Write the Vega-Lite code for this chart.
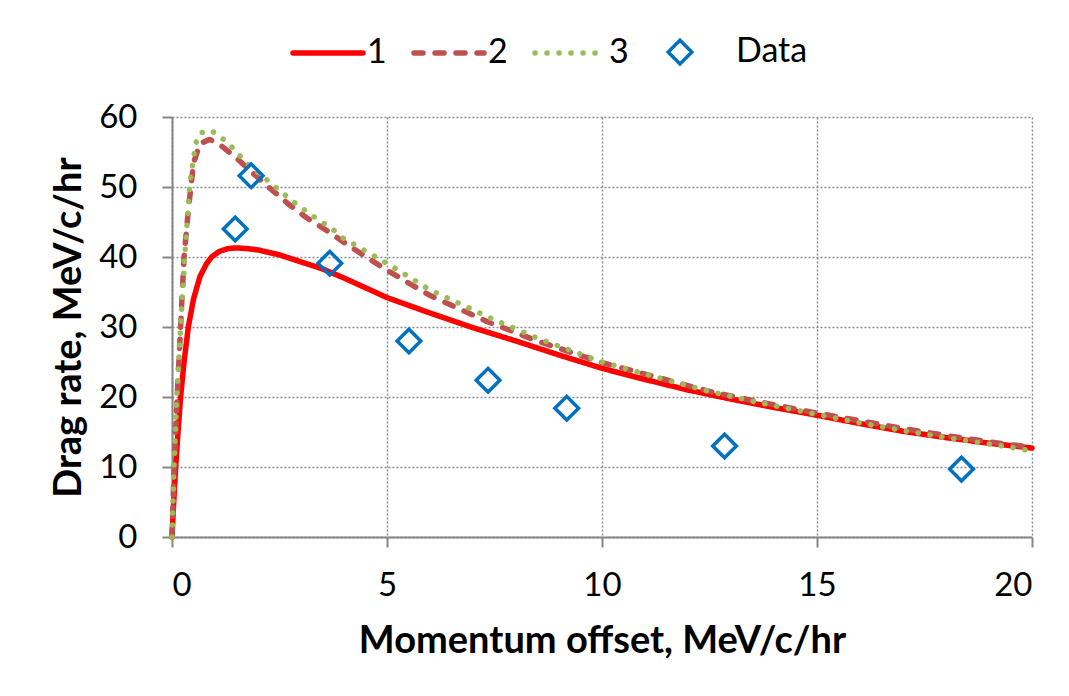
{
  "$schema": "https://vega.github.io/schema/vega-lite/v6.json",
  "autosize": {"type": "none"},
  "padding": {"left": 172, "top": 117, "right": 37, "bottom": 159},
  "width": 860,
  "height": 420,
  "background": "white",
  "config": {
    "view": {"stroke": null},
    "font": "Lato",
    "axis": {
      "domainColor": "#868686", "domainWidth": 2,
      "tickColor": "#868686", "tickWidth": 2, "tickSize": 10,
      "gridColor": "#8c8c8c", "gridDash": [2, 2], "gridWidth": 1.5,
      "labelFont": "Lato", "labelFontSize": 33, "labelColor": "#000000",
      "titleFont": "Lato", "titleFontSize": 38, "titleFontWeight": "bold", "titleColor": "#000000"
    }
  },
  "datasets": {
    "curves": [
      {"series": "1", "x": 0, "y": 0},
      {"series": "1", "x": 0.04, "y": 5},
      {"series": "1", "x": 0.086, "y": 10},
      {"series": "1", "x": 0.14, "y": 15},
      {"series": "1", "x": 0.2, "y": 20},
      {"series": "1", "x": 0.28, "y": 25},
      {"series": "1", "x": 0.38, "y": 30},
      {"series": "1", "x": 0.5, "y": 34},
      {"series": "1", "x": 0.65, "y": 37.2},
      {"series": "1", "x": 0.8, "y": 39},
      {"series": "1", "x": 0.92, "y": 40},
      {"series": "1", "x": 1.1, "y": 40.8},
      {"series": "1", "x": 1.3, "y": 41.2},
      {"series": "1", "x": 1.5, "y": 41.3},
      {"series": "1", "x": 1.75, "y": 41.2},
      {"series": "1", "x": 2, "y": 41},
      {"series": "1", "x": 2.5, "y": 40.3},
      {"series": "1", "x": 3, "y": 39.3},
      {"series": "1", "x": 3.5, "y": 38.3},
      {"series": "1", "x": 4, "y": 37},
      {"series": "1", "x": 5, "y": 34.2},
      {"series": "1", "x": 6, "y": 32},
      {"series": "1", "x": 7, "y": 29.9},
      {"series": "1", "x": 8, "y": 28},
      {"series": "1", "x": 9, "y": 26},
      {"series": "1", "x": 10, "y": 24.1},
      {"series": "1", "x": 11, "y": 22.5},
      {"series": "1", "x": 12, "y": 21},
      {"series": "1", "x": 13, "y": 19.7},
      {"series": "1", "x": 14, "y": 18.5},
      {"series": "1", "x": 15, "y": 17.4},
      {"series": "1", "x": 16, "y": 16.2},
      {"series": "1", "x": 17, "y": 15.1},
      {"series": "1", "x": 18, "y": 14.2},
      {"series": "1", "x": 19, "y": 13.4},
      {"series": "1", "x": 20, "y": 12.7},
      {"series": "2", "x": 0, "y": 0},
      {"series": "2", "x": 0.05, "y": 10},
      {"series": "2", "x": 0.12, "y": 20},
      {"series": "2", "x": 0.2, "y": 30},
      {"series": "2", "x": 0.28, "y": 40},
      {"series": "2", "x": 0.38, "y": 46.7},
      {"series": "2", "x": 0.5, "y": 53.4},
      {"series": "2", "x": 0.65, "y": 56.2},
      {"series": "2", "x": 0.88, "y": 56.8},
      {"series": "2", "x": 1.12, "y": 56},
      {"series": "2", "x": 1.47, "y": 54.3},
      {"series": "2", "x": 1.84, "y": 52.2},
      {"series": "2", "x": 2.28, "y": 49.8},
      {"series": "2", "x": 2.7, "y": 47.6},
      {"series": "2", "x": 3.13, "y": 45.6},
      {"series": "2", "x": 3.67, "y": 43.5},
      {"series": "2", "x": 4.14, "y": 41.5},
      {"series": "2", "x": 5, "y": 38.1},
      {"series": "2", "x": 6, "y": 34.5},
      {"series": "2", "x": 7.32, "y": 30.8},
      {"series": "2", "x": 8.5, "y": 28},
      {"series": "2", "x": 10, "y": 24.9},
      {"series": "2", "x": 11.35, "y": 22.7},
      {"series": "2", "x": 12.5, "y": 20.8},
      {"series": "2", "x": 13.5, "y": 19.5},
      {"series": "2", "x": 15, "y": 17.7},
      {"series": "2", "x": 16, "y": 16.6},
      {"series": "2", "x": 17, "y": 15.5},
      {"series": "2", "x": 18, "y": 14.5},
      {"series": "2", "x": 19, "y": 13.6},
      {"series": "2", "x": 20, "y": 12.8},
      {"series": "3", "x": 0, "y": 0},
      {"series": "3", "x": 0.047, "y": 10.5},
      {"series": "3", "x": 0.11, "y": 19.8},
      {"series": "3", "x": 0.2, "y": 30},
      {"series": "3", "x": 0.3, "y": 40.5},
      {"series": "3", "x": 0.42, "y": 50.9},
      {"series": "3", "x": 0.47, "y": 52.7},
      {"series": "3", "x": 0.55, "y": 56.2},
      {"series": "3", "x": 0.65, "y": 57.7},
      {"series": "3", "x": 0.9, "y": 58.1},
      {"series": "3", "x": 1.12, "y": 57.2},
      {"series": "3", "x": 1.35, "y": 56},
      {"series": "3", "x": 1.54, "y": 54.7},
      {"series": "3", "x": 1.74, "y": 53.4},
      {"series": "3", "x": 2.19, "y": 51.1},
      {"series": "3", "x": 2.4, "y": 50},
      {"series": "3", "x": 2.82, "y": 47.9},
      {"series": "3", "x": 3.29, "y": 45.8},
      {"series": "3", "x": 3.75, "y": 43.9},
      {"series": "3", "x": 3.98, "y": 42.7},
      {"series": "3", "x": 5, "y": 39.1},
      {"series": "3", "x": 6, "y": 35.3},
      {"series": "3", "x": 7.47, "y": 31.1},
      {"series": "3", "x": 8.5, "y": 28.4},
      {"series": "3", "x": 10, "y": 25},
      {"series": "3", "x": 11.35, "y": 22.7},
      {"series": "3", "x": 12.5, "y": 20.8},
      {"series": "3", "x": 13.5, "y": 19.4},
      {"series": "3", "x": 15, "y": 17.5},
      {"series": "3", "x": 16, "y": 16.3},
      {"series": "3", "x": 17, "y": 15.2},
      {"series": "3", "x": 18, "y": 14.2},
      {"series": "3", "x": 19, "y": 13.3},
      {"series": "3", "x": 20, "y": 12.3}
    ],
    "points": [
      {"series": "Data", "x": 1.47, "y": 44.0},
      {"series": "Data", "x": 1.84, "y": 51.6},
      {"series": "Data", "x": 3.67, "y": 39.1},
      {"series": "Data", "x": 5.51, "y": 28.0},
      {"series": "Data", "x": 7.35, "y": 22.4},
      {"series": "Data", "x": 9.18, "y": 18.4},
      {"series": "Data", "x": 12.85, "y": 13.0},
      {"series": "Data", "x": 18.36, "y": 9.7}
    ]
  },
  "encoding": {
    "x": {
      "field": "x", "type": "quantitative",
      "scale": {"domain": [0, 20], "nice": false, "zero": false},
      "axis": {
        "values": [0, 5, 10, 15, 20], "labelPadding": 22,
        "title": "Momentum offset, MeV/c/hr",
        "titleX": 430, "titleY": 115, "titleBaseline": "alphabetic", "titleAlign": "center"
      }
    },
    "y": {
      "field": "y", "type": "quantitative",
      "scale": {"domain": [0, 60], "nice": false, "zero": false},
      "axis": {
        "values": [0, 10, 20, 30, 40, 50, 60], "labelPadding": 25,
        "title": "Drag rate, MeV/c/hr",
        "titleX": -92, "titleY": 210, "titleAngle": 270, "titleBaseline": "alphabetic", "titleAlign": "center"
      }
    },
    "color": {
      "field": "series", "type": "nominal",
      "scale": {"domain": ["1", "2", "3", "Data"], "range": ["#FF0000", "#C0504D", "#9BBB59", "#0070C0"]},
      "legend": {
        "orient": "none", "direction": "horizontal", "title": null,
        "legendX": 121, "legendY": -82, "padding": 0,
        "symbolType": "stroke", "columnPadding": 16, "labelOffset": 22, "symbolOffset": 18,
        "labelFont": "Lato", "labelFontSize": 34, "labelColor": "#000000", "labelLimit": 200,
        "encode": {
          "symbols": {
            "update": {
              "shape": {"signal": "datum.value === 'Data' ? 'diamond' : 'stroke'"},
              "size": {"signal": "datum.value === 'Data' ? 560 : 4900"},
              "strokeDash": {"signal": "datum.value === '2' ? [9, 12] : datum.value === '3' ? [0.1, 11.9] : [1, 0]"},
              "strokeWidth": {"signal": "datum.value === 'Data' ? 3.5 : 5.5"},
              "strokeCap": {"value": "round"},
              "fill": {"value": "transparent"},
              "opacity": {"value": 1},
              "stroke": {"scale": "color", "field": "value"}
            }
          },
          "labels": {
            "update": {
              "dx": {"signal": "datum.value === 'Data' ? 17 : 0"}
            }
          }
        }
      }
    }
  },
  "layer": [
    {
      "data": {"name": "curves"},
      "mark": {"type": "line", "strokeWidth": 5.5, "strokeCap": "round", "strokeJoin": "round"},
      "encoding": {
        "strokeDash": {
          "field": "series", "type": "nominal", "legend": null,
          "scale": {"domain": ["1", "2", "3"], "range": [[1, 0], [9, 12], [0.1, 11.9]]}
        }
      }
    },
    {
      "data": {"name": "points"},
      "mark": {"type": "point", "shape": "diamond", "filled": false, "size": 560, "strokeWidth": 3.5, "opacity": 1}
    }
  ]
}
